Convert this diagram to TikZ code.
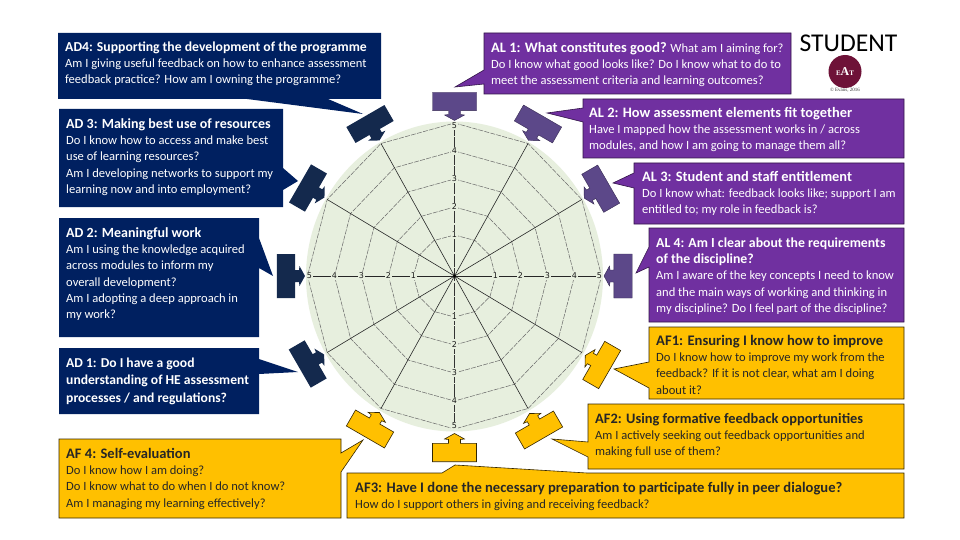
\documentclass[tikz,border=0pt]{standalone}
\usepackage{fontspec}
\setmainfont{Carlito}
\newfontfamily\labfont{DejaVu Sans}
\newfontfamily\logofont{Liberation Serif}
\definecolor{adblue}{HTML}{002060}
\definecolor{alpurple}{HTML}{7030A0}
\definecolor{afgold}{HTML}{FFC000}
\definecolor{adpiece}{HTML}{14294D}
\definecolor{alpiece}{HTML}{5C4889}
\definecolor{wheelbg}{HTML}{E7EFDE}
\definecolor{logored}{HTML}{6E1238}
\newcommand{\hd}[2][14.4]{{\fontsize{#1}{16.3}\selectfont\bfseries\rule{0pt}{11pt}#2}}
\tikzset{
  adbox/.style={fill=adblue},
  albox/.style={fill=alpurple,draw=alpurple!45!black,line width=.6pt},
  afbox/.style={fill=afgold,draw=afgold!20!black,line width=.6pt},
  adpc/.style={fill=adpiece},
  alpc/.style={fill=alpiece,draw=alpiece!60!black,line width=.4pt},
  afpc/.style={fill=afgold,draw=afgold!20!black,line width=.6pt},
  txt/.style={anchor=north west,inner sep=0pt,align=left,font=\fontsize{12.55}{16.3}\selectfont},
  wtxt/.style={txt,text=white},
  ktxt/.style={txt,text=black!85},
  ringline/.style={black!60,line width=.5pt,dash pattern=on 5pt off 1.2pt},
  spoke/.style={black!85,line width=.6pt},
  vaxis/.style={black!80,line width=.6pt,dash pattern=on 13pt off 1.5pt},
  ringlabel/.style={fill=wheelbg,inner sep=.6pt,text=black!90,font=\labfont\fontsize{8}{9}\selectfont},
}
% rectangular tab with an arrow towards the wheel; local origin = centre of the rectangle
\newcommand{\tabpiece}[4]{%
  \begin{scope}[shift={(#1,#2)},rotate=#3]
    \path[#4] (-22,-9.2) -- (22,-9.2) -- (22,9.2) -- (6,9.2) -- (6,13) -- (10,13.5) -- (0,19) -- (-10,13.5) -- (-6,13) -- (-6,9.2) -- (-22,9.2) -- cycle;
  \end{scope}}
\begin{document}
\begin{tikzpicture}[x=1pt,y=-1pt]
\useasboundingbox (0,0) rectangle (960,540);
\fill[white] (0,0) rectangle (960,540);
% wheel
\fill[wheelbg] (454.5,276.5) ellipse [x radius=148.5, y radius=155];
\coordinate (c) at (454.5,276);
\foreach \i in {0,...,11}{
  \coordinate (v\i) at ({454.5+147*sin(30*\i)},{276-153*cos(30*\i)});
}
\foreach \rx/\ry in {41/41,66/69,93/97,120/125,147/153}{
  \draw[ringline] ({454.5+\rx*sin(0)},{276-\ry*cos(0)})
    \foreach \i in {1,...,11}{ -- ({454.5+\rx*sin(30*\i)},{276-\ry*cos(30*\i)}) } -- cycle;
}
\foreach \i in {1,2,4,5,7,8,10,11}{ \draw[spoke] (c) -- (v\i); }
\draw[vaxis] (v0) -- (v6);
\draw[spoke] (v9) -- (v3);
\fill[black] (c) circle (1.6);
\foreach \v/\rx/\ry in {1/41/41,2/66/69,3/93/97,4/120/125,5/145/150}{
  \node[ringlabel] (rt\v) at (454.5,276-\ry) {\v};
  \node[ringlabel] (rb\v) at (454.5,276+\ry) {\v};
  \node[ringlabel] (rl\v) at (454.5-\rx,276) {\v};
  \node[ringlabel] (rr\v) at (454.5+\rx,276) {\v};
}
% tabs
\tabpiece{454.5}{101.5}{0}{alpc}
\tabpiece{538}{124}{-30}{alpc}
\tabpiece{600.7}{188.7}{-60}{alpc}
\tabpiece{623}{276}{-90}{alpc}
\tabpiece{601.7}{365}{-120}{afpc}
\tabpiece{539}{430}{-150}{afpc}
\tabpiece{454.5}{452.5}{180}{afpc}
\tabpiece{370}{429}{150}{afpc}
\tabpiece{307.7}{364}{120}{adpc}
\tabpiece{286}{276}{90}{adpc}
\tabpiece{308}{188}{60}{adpc}
\tabpiece{370}{124}{30}{adpc}
% callouts
\path[adbox] (58,33) -- (381,33) -- (381,99) -- (328,99) -- (363,114) -- (247,99) -- (58,99) -- cycle;
\path[adbox] (59,109) -- (283,109) -- (283,168) -- (298,181) -- (283,190) -- (283,207) -- (59,207) -- cycle;
\path[adbox] (59,218) -- (259,218) -- (259,238) -- (273,276) -- (259,268) -- (259,337) -- (59,337) -- cycle;
\path[adbox] (59,348) -- (259,348) -- (259,359) -- (298,372) -- (259,374) -- (259,414) -- (59,414) -- cycle;
\path[afbox] (59,439) -- (341,439) -- (341,453) -- (363,440) -- (341,472) -- (341,518) -- (59,518) -- cycle;
\path[afbox] (347,473) -- (442,473) -- (455,465) -- (587,473) -- (904,473) -- (904,518) -- (347,518) -- cycle;
\path[afbox] (588,404) -- (904,404) -- (904,469) -- (588,469) -- (588,457) -- (552,439) -- (588,442) -- cycle;
\path[afbox] (649,327) -- (904,327) -- (904,399) -- (649,399) -- (649,388) -- (614,369) -- (649,362) -- cycle;
\path[albox] (649,228) -- (904,228) -- (904,322) -- (649,322) -- (649,267) -- (636,273) -- (649,247) -- cycle;
\path[albox] (634,163) -- (904,163) -- (904,224) -- (634,224) -- (634,188) -- (613,183) -- (634,173) -- cycle;
\path[albox] (583,99) -- (904,99) -- (904,158) -- (583,158) -- (583,122) -- (547,113) -- (583,108) -- cycle;
\path[albox] (484,33) -- (791,33) -- (791,94) -- (484,94) -- (484,84) -- (455,87) -- (484,70) -- cycle;
% texts
\node[wtxt] (ad4) at (65,40) {\hd[13.7]{AD4: Supporting the development of the programme}\\Am I giving useful feedback on how to enhance assessment\\feedback practice? How am I owning the programme?};
\node[wtxt] (ad3) at (66,117) {\hd[14]{AD 3: Making best use of resources}\\Do I know how to access and make best\\use of learning resources?\\Am I developing networks to support my\\learning now and into employment?};
\node[wtxt] (ad2) at (66,226) {\hd[14]{AD 2: Meaningful work}\\Am I using the knowledge acquired\\across modules to inform my\\overall development?\\Am I adopting a deep approach in\\my work?};
\node[wtxt,font=\fontsize{13.6}{17.5}\selectfont\bfseries] (ad1) at (66,356) {\rule{0pt}{11pt}AD 1: Do I have a good\\understanding of HE assessment\\processes / and regulations?};
\node[ktxt] (af4) at (66,447) {\hd[14.5]{AF 4: Self-evaluation}\\Do I know how I am doing?\\Do I know what to do when I do not know?\\Am I managing my learning effectively?};
\node[ktxt] (af3) at (355,481) {\hd[14.6]{AF3: Have I done the necessary preparation to participate fully in peer dialogue?}\\How do I support others in giving and receiving feedback?};
\node[ktxt] (af2) at (595,412) {\hd{AF2: Using formative feedback opportunities}\\Am I actively seeking out feedback opportunities and\\making full use of them?};
\node[ktxt] (af1) at (656,334) {\hd[14.6]{AF1: Ensuring I know how to improve}\\Do I know how to improve my work from the\\feedback?  If it is not clear, what am I doing\\about it?};
\node[wtxt] (al4) at (656,236) {\hd[13.8]{AL 4: Am I clear about the requirements}\\\hd[13.8]{of the discipline?}\\Am I aware of the key concepts I need to know\\and the main ways of working and thinking in\\my discipline?  Do I feel part of the discipline?};
\node[wtxt] (al3) at (642,170) {\hd{AL 3: Student and staff entitlement}\\Do I know what: feedback looks like; support I am\\entitled to; my role in feedback is?};
\node[wtxt] (al2) at (589,106) {\hd{AL 2: How assessment elements fit together}\\Have I mapped how the assessment works in / across\\modules, and how I am going to manage them all?};
\node[wtxt] (al1) at (491,41) {\hd{AL 1: What constitutes good?} What am I aiming for?\\Do I know what good looks like? Do I know what to do to\\meet the assessment criteria and learning outcomes?};
% student + logo
\node[anchor=center,inner sep=0pt,font=\fontsize{25.6}{28}\selectfont,text=black] (student) at (848.5,43) {STUDENT};
\fill[logored] (845,71.5) circle (16.5);
\node[inner sep=0pt,text=white,font=\logofont\bfseries\fontsize{7}{8}\selectfont] (logo) at (845,72) {E\raisebox{-.5pt}{\fontsize{12}{12}\selectfont A}T};
\node[inner sep=0pt,text=black!80,font=\logofont\fontsize{5}{6}\selectfont] (copy) at (845,90) {© Evans, 2016};
\end{tikzpicture}
\end{document}
